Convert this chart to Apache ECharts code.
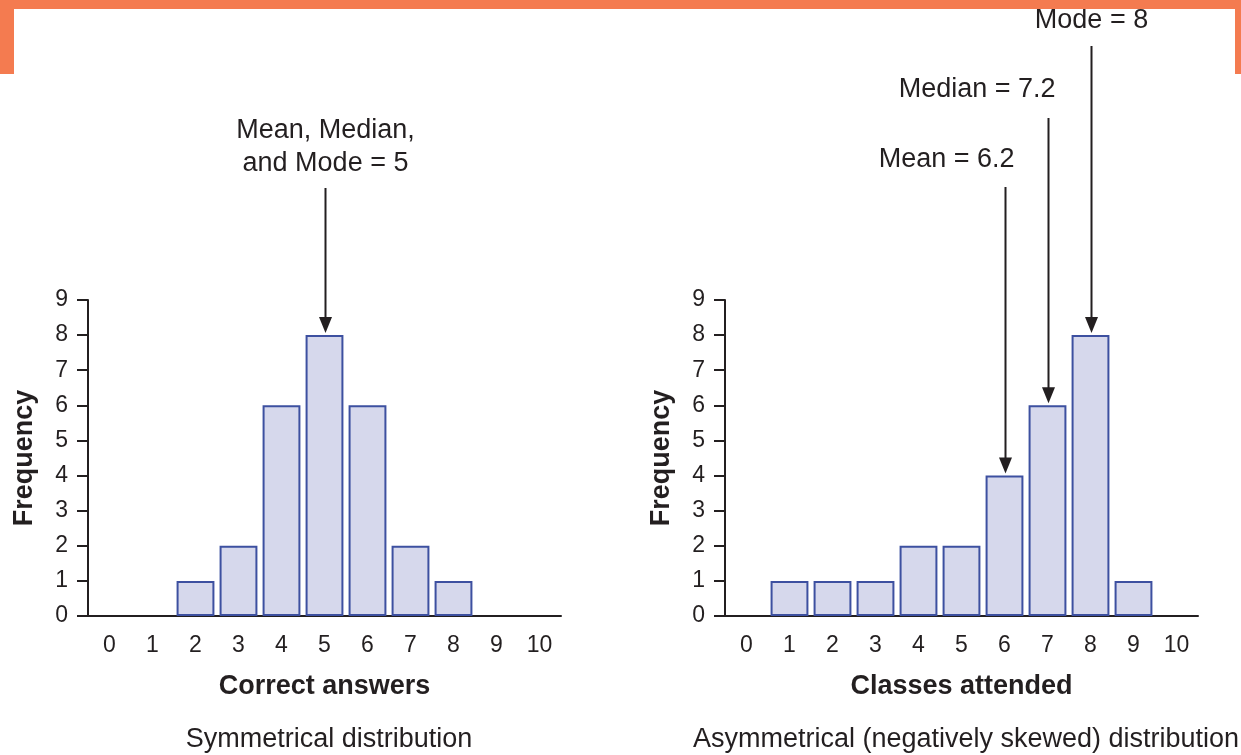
<!DOCTYPE html>
<html><head><meta charset="utf-8">
<script src="https://cdn.jsdelivr.net/npm/echarts@6/dist/echarts.min.js"></script>
<style>html,body{margin:0;padding:0;background:#fff}#c{width:1241px;height:755px}</style>
</head><body><div id="c"></div>
<script>
// ---- data ----
const categories = ['0','1','2','3','4','5','6','7','8','9','10'];
const yTicks = [0,1,2,3,4,5,6,7,8,9];
const symmetricFreq = [0,0,1,2,6,8,6,2,1,0,0];
const skewedFreq = [0,1,1,1,2,2,4,6,8,1,0];
const leftXName = 'Correct answers';
const rightXName = 'Classes attended';
const yName = 'Frequency';
const leftCaption = 'Symmetrical distribution';
const rightCaption = 'Asymmetrical (negatively skewed) distribution';
const leftNotes = [{category:'5', value:8, label:'Mean, Median,\nand Mode = 5'}];
const rightNotes = [
  {category:'6', value:4, label:'Mean = 6.2'},
  {category:'7', value:6, label:'Median = 7.2'},
  {category:'8', value:8, label:'Mode = 8'}
];
// ---- layout (not data) ----
const leftNoteLayout = [{startY:188, labelY:147, align:'center', dx:0}];
const rightNoteLayout = [
  {startY:187, labelY:160, align:'right', dx:9},
  {startY:118, labelY:90, align:'right', dx:7},
  {startY:46, labelY:21, align:'center', dx:0}
];

const FONT = '"Liberation Sans", Arial, Helvetica, sans-serif';
const INK = '#231f20';
const ORANGE = '#f47b50';

const chart = echarts.init(document.getElementById('c'));

function xAxisOpt(i, name){
  return {type:'category', gridIndex:i, data:categories, boundaryGap:true,
    axisLine:{lineStyle:{color:INK, width:2}},
    axisTick:{length:10, lineStyle:{color:INK, width:2}},
    axisLabel:{color:INK, fontSize:23, margin:18, fontFamily:FONT},
    name:name, nameLocation:'middle', nameGap:57,
    nameTextStyle:{color:INK, fontSize:27, fontWeight:'bold', fontFamily:FONT}};
}
function yAxisOpt(i){
  return {type:'value', gridIndex:i, min:yTicks[0], max:yTicks[yTicks.length-1], interval:1,
    splitLine:{show:false},
    axisLine:{show:true, lineStyle:{color:INK, width:2}},
    axisTick:{show:true, length:11, lineStyle:{color:INK, width:2}},
    axisLabel:{color:INK, fontSize:23, margin:20, fontFamily:FONT},
    name:yName, nameLocation:'middle', nameGap:50, nameRotate:90,
    nameTextStyle:{color:INK, fontSize:27, fontWeight:'bold', fontFamily:FONT}};
}
function barSeries(i, vals){
  return {type:'bar', xAxisIndex:i, yAxisIndex:i,
    data: vals.map(v => v === 0 ? '-' : v),
    barCategoryGap:'12%',
    itemStyle:{color:'#d6d8ec', borderColor:'#3d50a0', borderWidth:2},
    emphasis:{disabled:true}, animation:false};
}

chart.setOption({
  animation:false,
  grid:[
    {left:88, top:300, width:473, height:316},
    {left:725, top:300, width:473, height:316}
  ],
  xAxis:[xAxisOpt(0, leftXName), xAxisOpt(1, rightXName)],
  yAxis:[yAxisOpt(0), yAxisOpt(1)],
  title:[
    {text:leftCaption, left:324, top:721, textAlign:'center',
      textStyle:{color:INK, fontSize:27, fontWeight:'normal', fontFamily:FONT}},
    {text:rightCaption, left:961, top:721, textAlign:'center',
      textStyle:{color:INK, fontSize:27, fontWeight:'normal', fontFamily:FONT}}
  ],
  series:[barSeries(0, symmetricFreq), barSeries(1, skewedFreq)]
});

const graphics = [
  {type:'rect', shape:{x:0, y:0, width:1241, height:9}, style:{fill:ORANGE}, z:10},
  {type:'rect', shape:{x:0, y:0, width:14, height:74}, style:{fill:ORANGE}, z:10},
  {type:'rect', shape:{x:1235, y:0, width:6, height:74}, style:{fill:ORANGE}, z:10}
];
function addNotes(gridIndex, notes, layout){
  notes.forEach((n, k) => {
    const L = layout[k];
    const p = chart.convertToPixel({gridIndex:gridIndex}, [n.category, n.value]);
    const x = Math.round(p[0]) + 0.5;
    const tip = p[1] - 2;
    const head = 16;
    graphics.push({type:'line', shape:{x1:x, y1:L.startY, x2:x, y2:tip - head + 2},
      style:{stroke:INK, lineWidth:2}, z:5});
    graphics.push({type:'polygon', shape:{points:[[x-6.5, tip-head],[x+6.5, tip-head],[x, tip]]},
      style:{fill:INK}, z:5});
    graphics.push({type:'text', x: L.align === 'center' ? x : x + L.dx, y:L.labelY,
      style:{text:n.label, fill:INK, font:'27px ' + FONT, align:L.align, verticalAlign:'middle',
        lineHeight:33}, z:5});
  });
}
addNotes(0, leftNotes, leftNoteLayout);
addNotes(1, rightNotes, rightNoteLayout);
chart.setOption({graphic:graphics});
</script>
</body></html>
